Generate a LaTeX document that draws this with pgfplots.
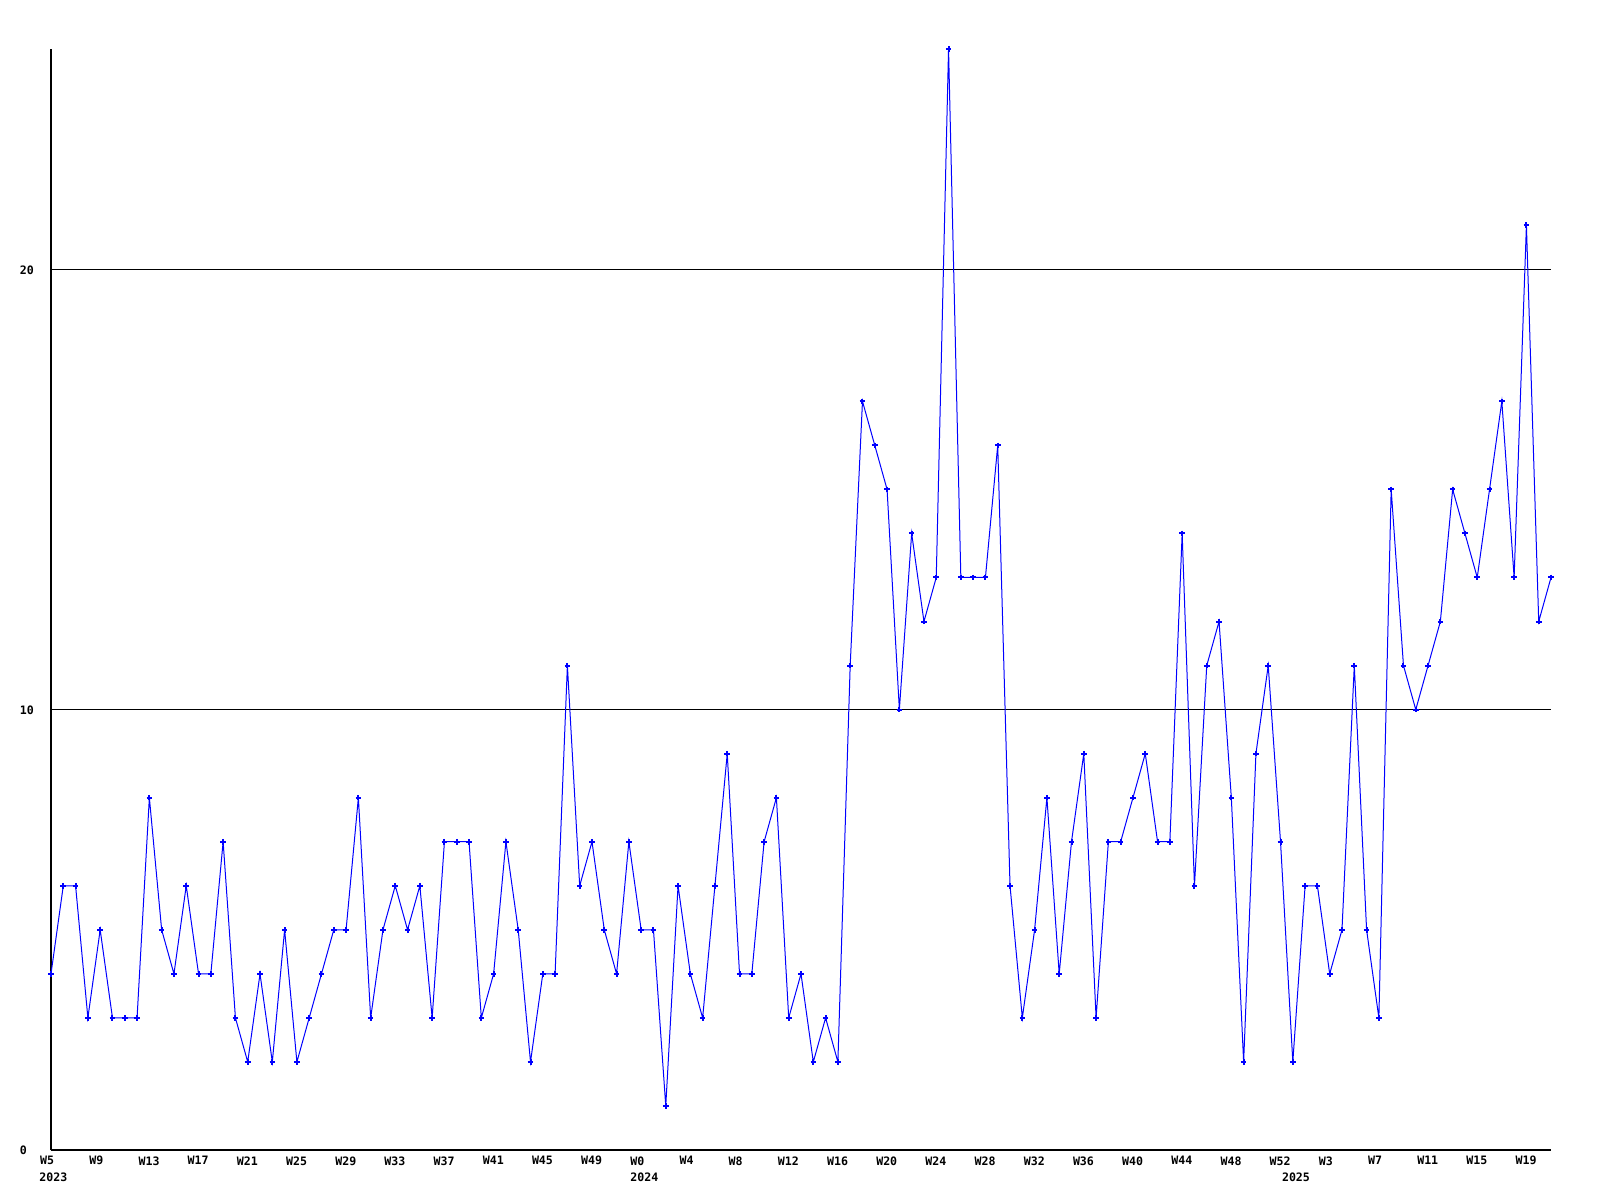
\documentclass[border=0pt]{standalone}
\usepackage{pgfplots}
\pgfplotsset{compat=1.18}
\usepackage{fontspec}
\newfontfamily\pix{DejaVu Sans Mono}
\newcommand{\lab}{\pix\bfseries\fontsize{5.8}{6}\selectfont}
\pgfplotstableread{
x y
0 4
1 6
2 6
3 3
4 5
5 3
6 3
7 3
8 8
9 5
10 4
11 6
12 4
13 4
14 7
15 3
16 2
17 4
18 2
19 5
20 2
21 3
22 4
23 5
24 5
25 8
26 3
27 5
28 6
29 5
30 6
31 3
32 7
33 7
34 7
35 3
36 4
37 7
38 5
39 2
40 4
41 4
42 11
43 6
44 7
45 5
46 4
47 7
48 5
49 5
50 1
51 6
52 4
53 3
54 6
55 9
56 4
57 4
58 7
59 8
60 3
61 4
62 2
63 3
64 2
65 11
66 17
67 16
68 15
69 10
70 14
71 12
72 13
73 25
74 13
75 13
76 13
77 16
78 6
79 3
80 5
81 8
82 4
83 7
84 9
85 3
86 7
87 7
88 8
89 9
90 7
91 7
92 14
93 6
94 11
95 12
96 8
97 2
98 9
99 11
100 7
101 2
102 6
103 6
104 4
105 5
106 11
107 5
108 3
109 15
110 11
111 10
112 11
113 12
114 15
115 14
116 13
117 15
118 17
119 13
120 21
121 12
122 13
}\datatable
\begin{document}
\begin{tikzpicture}
\path[use as bounding box] (-25.5pt,-25pt) rectangle (774.5pt,575pt);
\begin{axis}[
  at={(0,0)}, anchor=south west,
  scale only axis, width=750pt, height=550.5pt,
  xmin=0, xmax=122, ymin=0, ymax=25,
  clip=false,
  axis lines*=left,
  axis line style={black, line width=0.6pt},
  major tick length=0pt,
  ytick={0,10,20}, yticklabels={0,10,20},
  xtick={0,4,...,120},
  xticklabels={W5,W9,W13,W17,W21,W25,W29,W33,W37,W41,W45,W49,W0,W4,W8,W12,W16,W20,W24,W28,W32,W36,W40,W44,W48,W52,W3,W7,W11,W15,W19},
  typeset ticklabels with strut,
  ymajorgrids, grid style={black, line width=0.5pt},
  xticklabel style={font=\lab, anchor=north west, inner sep=0pt, xshift=-5.6pt, yshift=-3pt},
  yticklabel style={font=\lab, anchor=west, inner sep=0pt, xshift=-15.8pt, yshift=-1.2pt},
]
\addplot[blue, line width=0.5pt, mark=+, mark size=1.4pt, mark options={line width=1pt}] table[x=x,y=y] {\datatable};
\node[font=\lab, anchor=north west, inner sep=0pt, xshift=-6pt, yshift=-11pt] at (axis cs:0,0) {2023};
\node[font=\lab, anchor=north west, inner sep=0pt, xshift=-5.6pt, yshift=-11pt] at (axis cs:48,0) {2024};
\node[font=\lab, anchor=north west, inner sep=0pt, xshift=-5.6pt, yshift=-11pt] at (axis cs:101,0) {2025};
\end{axis}
\end{tikzpicture}
\end{document}
